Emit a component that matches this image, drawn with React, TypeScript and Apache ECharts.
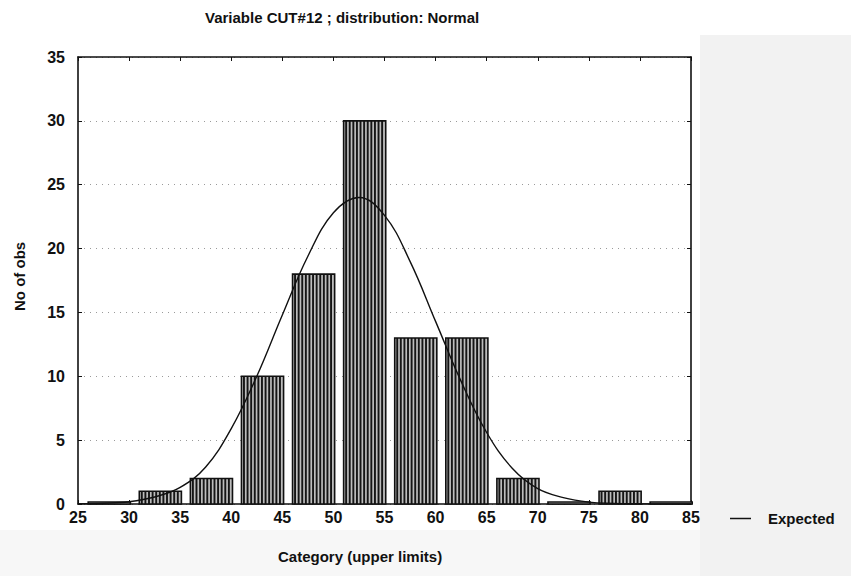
import React, { useEffect, useRef } from "react";
import * as echarts from "echarts";

// Histogram bins (upper limits) and observed counts
const binLower = [25, 30, 35, 40, 45, 50, 55, 60, 65, 70, 75, 80];
const binUpper = [30, 35, 40, 45, 50, 55, 60, 65, 70, 75, 80, 85];
const counts = [0, 1, 2, 10, 18, 30, 13, 13, 2, 0, 1, 0];

// Expected (normal) curve
const curveX = [25, 27.5, 30, 32.5, 35, 37.5, 40, 42.5, 45, 47.5, 50, 52.5, 55, 57.5, 60, 62.5, 65, 67.5, 70, 72.5, 75, 77.5, 80, 82.5, 85];
const curveY = [0.02, 0.06, 0.18, 0.55, 1.3, 2.9, 5.9, 10.0, 14.8, 19.4, 22.8, 24.0, 22.6, 19.0, 14.3, 9.6, 5.6, 2.8, 1.2, 0.5, 0.15, 0.05, 0.02, 0.01, 0];

const xTicks = { min: 25, max: 85, interval: 5 };
const yTicks = { min: 0, max: 35, interval: 5 };

const titleText = "Variable CUT#12 ; distribution: Normal";
const xName = "Category (upper limits)";
const yName = "No of obs";
const legendName = "Expected";

const FONT = "'Liberation Sans', Arial, sans-serif";

export default function App() {
  const ref = useRef<HTMLDivElement>(null);

  useEffect(() => {
    if (!ref.current) return;
    const chart = echarts.init(ref.current, null, { renderer: "svg" });

    const barData = binLower.map((lo, i) => [lo, binUpper[i], counts[i]]);
    const lineData = curveX.map((x, i) => [x, curveY[i]]);

    const axisLineStyle = { color: "#111", width: 1.6 };

    const option: any = {
      animation: false,
      backgroundColor: "#fff",
      textStyle: { fontFamily: FONT },
      grid: {
        left: 78,
        right: 160,
        top: 57,
        bottom: 72,
        show: true,
        backgroundColor: "#fff",
        borderColor: "#111",
        borderWidth: 0,
      },
      graphic: [
        { type: "rect", z: -100, silent: true, shape: { x: 700, y: 35, width: 151, height: 541 }, style: { fill: "#f2f2f2" } },
        { type: "rect", z: -100, silent: true, shape: { x: 0, y: 530, width: 700, height: 46 }, style: { fill: "#f7f7f7" } },
        {
          type: "text",
          left: 205,
          top: 10,
          style: { text: titleText, fontSize: 15, fontWeight: "bold", fontFamily: FONT, fill: "#111" },
        },
        {
          type: "text",
          left: 278,
          top: 549,
          style: { text: xName, fontSize: 15, fontWeight: "bold", fontFamily: FONT, fill: "#111" },
        },
        {
          type: "text",
          x: 12,
          y: 311,
          rotation: Math.PI / 2,
          style: { text: yName, fontSize: 15, fontWeight: "bold", fontFamily: FONT, fill: "#111" },
        },
      ],
      legend: {
        data: [{ name: legendName, icon: "rect" }],
        left: 725,
        top: 506,
        itemWidth: 21,
        itemHeight: 1.5,
        itemGap: 8,
        itemStyle: { color: "#111" },
        textStyle: { fontSize: 15, fontWeight: "bold", color: "#111", fontFamily: FONT, padding: [0, 0, 0, 12] },
      },
      xAxis: [
        {
          type: "value",
          ...xTicks,
          position: "bottom",
          axisLine: { show: true, lineStyle: axisLineStyle, onZero: false },
          axisTick: { show: true, inside: true, length: 4, lineStyle: { color: "#111" } },
          axisLabel: { fontSize: 16, fontWeight: "bold", color: "#111", margin: 5, fontFamily: FONT },
          splitLine: { show: false },
        },
        {
          type: "value",
          ...xTicks,
          position: "top",
          axisLine: { show: true, lineStyle: axisLineStyle, onZero: false },
          axisTick: { show: true, inside: true, length: 4, lineStyle: { color: "#111" } },
          axisLabel: { show: false },
          splitLine: { show: false },
        },
      ],
      yAxis: [
        {
          type: "value",
          ...yTicks,
          position: "left",
          axisLine: { show: true, lineStyle: axisLineStyle, onZero: false },
          axisTick: { show: true, inside: true, length: 4, lineStyle: { color: "#111" } },
          axisLabel: { fontSize: 16, fontWeight: "bold", color: "#111", margin: 13, fontFamily: FONT },
          splitLine: { show: true, lineStyle: { color: "#9a9a9a", width: 1, type: [1, 5] } },
        },
        {
          type: "value",
          ...yTicks,
          position: "right",
          axisLine: { show: true, lineStyle: axisLineStyle, onZero: false },
          axisTick: { show: true, inside: true, length: 4, lineStyle: { color: "#111" } },
          axisLabel: { show: false },
          splitLine: { show: false },
        },
      ],
      series: [
        {
          type: "custom",
          name: "Observed",
          xAxisIndex: 0,
          yAxisIndex: 0,
          data: barData,
          encode: { x: [0, 1], y: 2 },
          renderItem: (params: any, api: any) => {
            const lo = api.value(0);
            const hi = api.value(1);
            const v = api.value(2);
            const p0 = api.coord([lo + 1, 0]);
            const p1 = api.coord([hi + 0.12, v]);
            const x0 = p0[0];
            const x1 = p1[0];
            const yb = p0[1];
            let yt = p1[1];
            if (v === 0) yt = yb - 2;
            const children: any[] = [
              { type: "rect", shape: { x: x0, y: yt, width: x1 - x0, height: yb - yt }, style: { fill: "#bdbdbd", stroke: "none" } },
            ];
            if (v > 0) {
              for (let sx = x0 + 2.5; sx < x1 - 1; sx += 3.6) {
                children.push({
                  type: "line",
                  shape: { x1: sx, y1: yt, x2: sx, y2: yb },
                  style: { stroke: "#151515", lineWidth: 1.9 },
                });
              }
            }
            children.push({
              type: "rect",
              shape: { x: x0, y: yt, width: x1 - x0, height: yb - yt },
              style: { fill: "none", stroke: "#111", lineWidth: 1.6 },
            });
            return { type: "group", children };
          },
          z: 2,
        },
        {
          type: "line",
          name: legendName,
          xAxisIndex: 0,
          yAxisIndex: 0,
          data: lineData,
          smooth: 0.4,
          symbol: "none",
          lineStyle: { color: "#111", width: 1.4 },
          itemStyle: { color: "#111" },
          z: 5,
        },
      ],
    };

    chart.setOption(option);
    return () => chart.dispose();
  }, []);

  return <div ref={ref} style={{ position: "fixed", left: 0, top: 0, width: 851, height: 576 }} />;
}
